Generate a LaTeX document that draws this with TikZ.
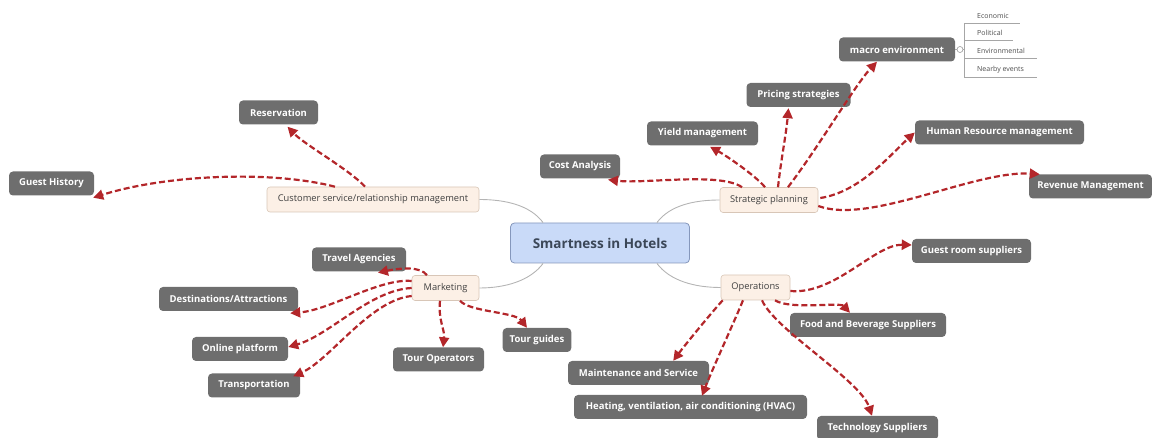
\documentclass[tikz,border=0pt]{standalone}
\usepackage{fontspec}
\setmainfont{Open Sans}
\usetikzlibrary{arrows.meta}

\definecolor{hubfill}{HTML}{C9DAF8}
\definecolor{hubline}{HTML}{8597BC}
\definecolor{hubtext}{HTML}{3B4758}
\definecolor{topicfill}{HTML}{FCF0E6}
\definecolor{topicline}{HTML}{D8C6B7}
\definecolor{leaffill}{HTML}{6E6E6E}
\definecolor{branchgray}{HTML}{B4B4B4}
\definecolor{linkred}{HTML}{B3262A}

\begin{document}
\begin{tikzpicture}[x=1pt, y=-1pt, % one unit is one pixel of the sketch, y runs downwards
    hub/.style={draw=hubline, fill=hubfill, rounded corners=4pt, line width=0.8pt, minimum height=40pt,
        font=\fontsize{13.5}{15}\selectfont\bfseries, text=hubtext},
    topic/.style={draw=topicline, fill=topicfill, rounded corners=3pt, line width=0.6pt, minimum height=25pt,
        inner xsep=6pt, font=\fontsize{9.3}{10}\selectfont, text=black!75},
    leaf/.style={fill=leaffill, rounded corners=4pt, minimum height=24pt, inner xsep=7pt,
        font=\fontsize{9.5}{11}\selectfont\bfseries, text=white},
    branch/.style={draw=branchgray, line width=0.9pt},
    link/.style={draw=linkred, line width=2.2pt, dash pattern=on 6pt off 3pt, -{Triangle[length=10pt,width=10pt]}},
    sub/.style={font=\fontsize{7}{8}\selectfont, text=black!70, anchor=base west, inner sep=0pt},
    subline/.style={draw=black!35, line width=0.6pt}]
    \useasboundingbox (0,0) rectangle (1152,438);

    % central topic and the four main topics
    \node[hub, minimum width=179pt] (hub) at (600,243) {Smartness in Hotels};
    \node[topic, minimum width=212pt] (cust) at (373,199.5) {Customer service/relationship management};
    \node[topic, minimum width=98pt] (strat) at (769,200) {Strategic planning};
    \node[topic, minimum width=67pt] (mkt) at (445.5,288) {Marketing};
    \node[topic, minimum width=69pt] (ops) at (755.5,287.5) {Operations};

    % grey branches from the centre
    \draw[branch] ([xshift=33pt]hub.north west) .. controls (530,205) and (505,199.5) .. (cust.east);
    \draw[branch] ([xshift=-33pt]hub.north east) .. controls (670,205) and (695,200) .. (strat.west);
    \draw[branch] ([xshift=33pt]hub.south west) .. controls (530,281) and (505,288) .. (mkt.east);
    \draw[branch] ([xshift=-33pt]hub.south east) .. controls (670,281) and (695,287.5) .. (ops.west);

    % leaves
    \node[leaf, minimum width=79pt] (res) at (278.5,112.5) {Reservation};
    \node[leaf, minimum width=85pt] (guest) at (51.5,183.5) {Guest History};
    \node[leaf, minimum width=80pt] (cost) at (580,166.5) {Cost Analysis};
    \node[leaf, minimum width=111pt] (yield) at (702.5,133.5) {Yield management};
    \node[leaf, minimum width=104pt] (price) at (798.5,95) {Pricing strategies};
    \node[leaf, minimum width=116pt] (macro) at (897,49.5) {macro environment};
    \node[leaf, minimum width=169pt] (hr) at (999.5,132.5) {Human Resource management};
    \node[leaf, minimum width=123pt] (rev) at (1090.5,186.5) {Revenue Management};
    \node[leaf, minimum width=94pt] (travel) at (359,259.5) {Travel Agencies};
    \node[leaf, minimum width=139pt] (dest) at (228.5,299) {Destinations/Attractions};
    \node[leaf, minimum width=96pt] (online) at (240,349) {Online platform};
    \node[leaf, minimum width=92pt] (transp) at (254,385.5) {Transportation};
    \node[leaf, minimum width=91pt] (tourop) at (438.5,359.5) {Tour Operators};
    \node[leaf, minimum width=66pt] (guide) at (537,340) {Tour guides};
    \node[leaf, minimum width=119pt] (room) at (971.5,251) {Guest room suppliers};
    \node[leaf, minimum width=156pt] (food) at (868,325) {Food and Beverage Suppliers};
    \node[leaf, minimum width=141pt] (maint) at (638.5,373) {Maintenance and Service};
    \node[leaf, minimum width=233pt] (hvac) at (690.5,407) {Heating, ventilation, air conditioning (HVAC)};
    \node[leaf, minimum width=121pt] (tech) at (877.5,428) {Technology Suppliers};

    % customer service links
    \draw[link] ([xshift=-8pt]cust.north) .. controls (350,170) and (305,145) .. ([xshift=9pt,yshift=-2pt]res.south);
    \draw[link] ([xshift=-38pt]cust.north) .. controls (270,170) and (165,175) .. ([xshift=-1pt,yshift=-2pt]guest.south east);

    % strategic planning links
    \draw[link] ([xshift=-27pt]strat.north) .. controls (720,172) and (645,184) .. ([xshift=28pt,yshift=-1pt]cost.south);
    \draw[link] ([xshift=-4pt]strat.north) .. controls (755,175) and (725,155) .. ([xshift=7.5pt,yshift=-1pt]yield.south);
    \draw[link] ([xshift=9pt]strat.north) .. controls (781,160) and (786,135) .. ([xshift=-10pt,yshift=-1pt]price.south);
    \draw[link] ([xshift=19pt]strat.north) .. controls (820,145) and (855,85) .. ([xshift=-20pt]macro.south);
    \draw[link] ([xshift=2pt,yshift=2pt]strat.east) .. controls (860,192) and (890,155) .. (hr.west);
    \draw[link] ([yshift=-6pt]strat.east) .. controls (870,225) and (975,170) .. ([xshift=11pt]rev.north west);

    % marketing links
    \draw[link] ([xshift=-18.5pt]mkt.north) .. controls (420,266) and (400,268) .. ([xshift=19pt,yshift=-1pt]travel.south);
    \draw[link] ([yshift=7pt]mkt.west) .. controls (380,278) and (330,310) .. ([xshift=-8pt,yshift=-2pt]dest.south east);
    \draw[link] (mkt.west) .. controls (370,290) and (330,335) .. ([yshift=2pt]online.east);
    \draw[link] ([yshift=-8pt]mkt.west) .. controls (370,300) and (330,360) .. ([xshift=-7pt,yshift=-3pt]transp.north east);
    \draw[link] ([xshift=-5.5pt]mkt.south) .. controls (438,320) and (445,330) .. ([xshift=4.5pt]tourop.north);
    \draw[link] ([xshift=14.5pt]mkt.south) .. controls (470,312) and (515,312) .. ([xshift=-10pt]guide.north);

    % operations links
    \draw[link] ([yshift=-3.5pt]ops.east) .. controls (835,295) and (875,244) .. ([yshift=6pt]room.west);
    \draw[link] ([xshift=19.5pt]ops.south) .. controls (790,310) and (840,302) .. ([xshift=-18pt]food.north);
    \draw[link] ([xshift=2pt]ops.south west) .. controls (712,312) and (685,345) .. ([xshift=-36pt]maint.north east);
    \draw[link] ([xshift=-12.5pt]ops.south) .. controls (735,320) and (712,370) .. ([xshift=11.5pt,yshift=-1pt]hvac.north);
    \draw[link] ([xshift=6.5pt]ops.south) .. controls (775,330) and (860,380) .. ([xshift=-5.5pt]tech.north);

    % macro environment details
    \node[draw=black!40, fill=white, circle, inner sep=0pt, minimum size=6pt, line width=0.6pt] (fold) at (960,49.5) {};
    \coordinate (rail) at (964,49.5);
    \draw[subline] (macro.east) -- (fold.west);
    \draw[subline] (fold.east) -- (rail);
    \draw[subline] (964,23) -- (964,77);
    \node[sub] (eco) at (977,19) {Economic};
    \node[sub] (pol) at (977,36) {Political};
    \node[sub] (env) at (977,54) {Environmental};
    \node[sub] (near) at (977,72) {Nearby events};
    \draw[subline] (964,23) -- (1020,23);
    \draw[subline] (964,40) -- (1013,40);
    \draw[subline] (964,58) -- (1037,58);
    \draw[subline] (964,77) -- (1037,77);
\end{tikzpicture}
\end{document}
